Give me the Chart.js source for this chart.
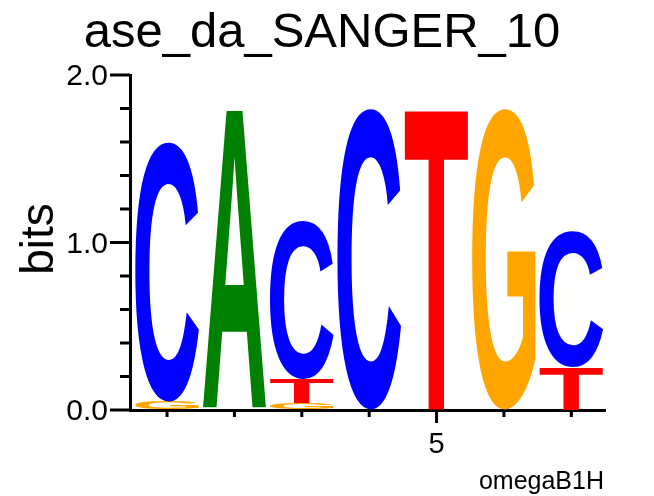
<!DOCTYPE html>
<html>
<head>
<meta charset="utf-8">
<script src="https://cdn.jsdelivr.net/npm/chart.js@4"></script>
<style>
  html, body { margin: 0; padding: 0; background: #fff; }
  #wrap { width: 654px; height: 496px; }
</style>
</head>
<body>
<div id="wrap"><canvas id="logo" width="654" height="496"></canvas></div>
<script>
const positions = [1, 2, 3, 4, 5, 6, 7];
// bits per letter at each position, stacked bottom to top in this order
const bitsG = [0.05, 0, 0.04, 0, 0, 1.80, 0];
const bitsT = [0, 0, 0.145, 0, 1.80, 0, 0.26];
const bitsA = [0, 1.79, 0, 0, 0, 0, 0];
const bitsC = [1.55, 0, 0.945, 1.80, 0, 0, 0.81];
const yLabels = ['0.0', '1.0', '2.0'];
const xLabels = { 5: '5' };

const title = 'ase_da_SANGER_10';
const yTitle = 'bits';
const footer = 'omegaB1H';

const FONT = '"Liberation Sans", Arial, sans-serif';

const letterSet = (letter, data, color) => ({
  label: letter, data, letter, glyphColor: color,
  backgroundColor: 'transparent', borderWidth: 0,
  barPercentage: 0.945, categoryPercentage: 1,
});

// fill each stacked bar rect with its letter glyph, stretched to fit
const glyphs = {
  id: 'glyphs',
  afterDatasetsDraw(chart) {
    const ctx = chart.ctx;
    chart.data.datasets.forEach((ds, di) => {
      const meta = chart.getDatasetMeta(di);
      ctx.save();
      ctx.font = 'bold 200px ' + FONT;
      const m = ctx.measureText(ds.letter);
      const gw = m.actualBoundingBoxLeft + m.actualBoundingBoxRight;
      const gh = m.actualBoundingBoxAscent + m.actualBoundingBoxDescent;
      ctx.restore();
      meta.data.forEach((el, i) => {
        if (!ds.data[i]) return;
        const p = el.getProps(['x', 'y', 'base', 'width'], true);
        const top = Math.min(p.y, p.base), bot = Math.max(p.y, p.base);
        const h = bot - top;
        if (h < 0.5) return;
        ctx.save();
        ctx.translate(p.x - p.width / 2, top);
        ctx.scale(p.width / gw, h / gh);
        ctx.font = 'bold 200px ' + FONT;
        ctx.fillStyle = ds.glyphColor;
        ctx.textAlign = 'left';
        ctx.textBaseline = 'alphabetic';
        ctx.fillText(ds.letter, m.actualBoundingBoxLeft, m.actualBoundingBoxAscent);
        ctx.restore();
      });
    });
  },
  afterDraw(chart) {
    const ctx = chart.ctx;
    const xs = chart.scales.x, ys = chart.scales.y;
    const area = chart.chartArea;
    ctx.save();
    ctx.strokeStyle = '#000';
    ctx.lineWidth = 3;
    ctx.beginPath();
    for (let k = 0; k <= 10; k++) {
      const v = k * 0.2;
      const y = ys.getPixelForValue(v);
      const major = k % 5 === 0;
      ctx.moveTo(area.left - (major ? 20 : 10), y);
      ctx.lineTo(area.left, y);
    }
    positions.forEach(pos => {
      const x = xs.getPixelForValue(pos);
      ctx.moveTo(x, area.bottom);
      ctx.lineTo(x, area.bottom + (xLabels[pos] ? 13 : 7));
    });
    ctx.stroke();

    ctx.fillStyle = '#000';
    ctx.font = '49px ' + FONT;
    ctx.textAlign = 'center';
    ctx.textBaseline = 'alphabetic';
    ctx.fillText(title, 322, 47);

    ctx.font = '25px ' + FONT;
    ctx.textAlign = 'right';
    ctx.fillText(footer, 604, 489);

    ctx.translate(53, 239);
    ctx.rotate(-Math.PI / 2);
    ctx.font = '46px ' + FONT;
    ctx.textAlign = 'center';
    ctx.fillText(yTitle, 0, 0);
    ctx.restore();
  }
};

new Chart(document.getElementById('logo'), {
  type: 'bar',
  data: {
    labels: positions,
    datasets: [
      letterSet('G', bitsG, '#ffa500'),
      letterSet('T', bitsT, '#ff0000'),
      letterSet('A', bitsA, '#008000'),
      letterSet('C', bitsC, '#0000ff'),
    ],
  },
  options: {
    responsive: false,
    animation: false,
    layout: { padding: { top: 75, right: 49, bottom: 0, left: 0 } },
    plugins: { legend: { display: false }, title: { display: false }, tooltip: { enabled: false } },
    scales: {
      x: {
        type: 'linear', stacked: true, min: 0.45, max: 7.5, offset: false,
        grid: { drawOnChartArea: false, drawTicks: false },
        border: { display: true, color: '#000', width: 3 },
        ticks: {
          stepSize: 1, includeBounds: false, autoSkip: false, maxRotation: 0,
          color: '#000', font: { family: FONT, size: 29 }, padding: 18,
          callback: v => xLabels[v] || '',
        },
        afterFit: s => { s.height = 86; },
      },
      y: {
        stacked: true, min: 0, max: 2,
        grid: { drawOnChartArea: false, drawTicks: false },
        border: { display: true, color: '#000', width: 3 },
        ticks: {
          stepSize: 0.2, autoSkip: false, labelOffset: 2,
          color: '#000', font: { family: FONT, size: 30 }, padding: 22,
          callback: v => {
            const r = Math.round(v);
            return Math.abs(v - r) < 1e-6 ? yLabels[r] : '';
          },
        },
        afterFit: s => { s.width = 130; },
      },
    },
  },
  plugins: [glyphs],
});
</script>
</body>
</html>
